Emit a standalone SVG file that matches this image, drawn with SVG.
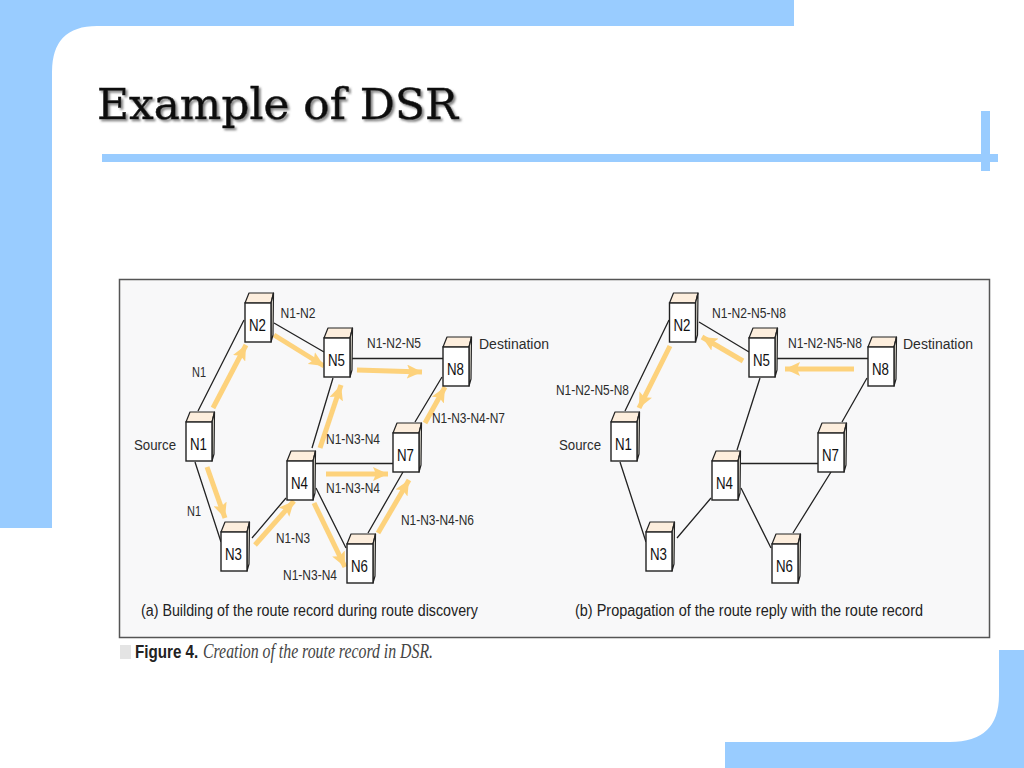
<svg xmlns="http://www.w3.org/2000/svg" width="1024" height="768" viewBox="0 0 1024 768">
<style>
.bg{fill:#99ccff}
.lnk{stroke:#222;stroke-width:1.3;fill:none}
.flow{stroke:#fdd27c;stroke-width:5;fill:none;marker-end:url(#head)}
.lab{font-family:"Liberation Sans",Arial,sans-serif;font-size:14px;fill:#2c2c2c}
.nl{font-family:"Liberation Sans",Arial,sans-serif;font-size:17px;fill:#111}
.cap{font-family:"Liberation Sans",Arial,sans-serif;font-size:16px;fill:#222}
</style>
<defs>
<marker id="head" markerUnits="userSpaceOnUse" markerWidth="16" markerHeight="14" refX="15" refY="7" orient="auto" viewBox="0 0 16 14"><path d="M0 0L15 7L0 14L3 7Z" fill="#fdd27c"/></marker>
<g id="box">
<path d="M0 0L4 -10L28.500 -10L26 0Z" fill="#fdeedd" stroke="#222" stroke-width="1.200" stroke-linejoin="round"/>
<path d="M26 0L28.500 -10L28 32L26 39Z" fill="#f4f0e4" stroke="#222" stroke-width="1.200" stroke-linejoin="round"/>
<rect x="0" y="0" width="26" height="39" fill="#fff" stroke="#222" stroke-width="1.400"/>
</g>
<filter id="sh" x="-5%" y="-10%" width="110%" height="130%"><feDropShadow dx="2" dy="2" stdDeviation="0.8" flood-color="#777" flood-opacity="0.9"/></filter>
</defs>
<rect width="1024" height="768" fill="#fff"/>
<g id="frame">
<path class="bg" d="M0 0H794V26H97Q52 26 52 72V528H0Z"/>
<path class="bg" d="M999 650H1024V768H725V742H950Q999 742 999 695Z"/>
<rect class="bg" x="102" y="154" width="896" height="8"/>
<rect class="bg" x="981" y="111" width="9" height="60"/>
</g>
<text id="title" x="97" y="119" font-family="'DejaVu Serif','Liberation Serif',serif" font-size="43" fill="#111" stroke="#111" stroke-width="0.500" textLength="361" lengthAdjust="spacingAndGlyphs" filter="url(#sh)">Example of DSR</text>
<rect id="panel" x="119.500" y="279.500" width="870" height="358" fill="#f8f8f9" stroke="#555" stroke-width="1.500"/>
<g id="connectors">
<path class="lnk" d="M198 411L244 320M274 323L324 352M350 358.500H443M333 378L312 448M314 463.500H393M415 422L442 377M403 472L368 533M316 488L346 548M252 538L286 498M195 462L221 542"/>
<path class="lnk" d="M625 411L669 320M699 322L749 352M775 358.500H868M760 378L737 450M739 463.500H818M842 422L867 378M831 472L793 533M741 488L771 548M677 538L711 498M620 462L646 542"/>
<path class="flow" d="M213 408L246 345"/>
<path class="flow" d="M274 335L324 366"/>
<path class="flow" d="M320 448L341 385"/>
<path class="flow" d="M357 370L422 372"/>
<path class="flow" d="M326 474H388"/>
<path class="flow" d="M425 423L445 387"/>
<path class="flow" d="M378 533L409 480"/>
<path class="flow" d="M314 503L345 567"/>
<path class="flow" d="M255 545L294 501"/>
<path class="flow" d="M207 467L225 518"/>
<path class="flow" d="M743 361L702 337"/>
<path class="flow" d="M670 346L639 408"/>
<path class="flow" d="M854 369H785"/>
</g>
<g id="a-n1" transform="translate(186 422)"><use href="#box"/><text class="nl" x="4" y="28" textLength="17" lengthAdjust="spacingAndGlyphs">N1</text></g>
<g id="a-n2" transform="translate(245 303)"><use href="#box"/><text class="nl" x="4" y="28" textLength="17" lengthAdjust="spacingAndGlyphs">N2</text></g>
<g id="a-n3" transform="translate(221 532)"><use href="#box"/><text class="nl" x="4" y="28" textLength="17" lengthAdjust="spacingAndGlyphs">N3</text></g>
<g id="a-n4" transform="translate(287 461)"><use href="#box"/><text class="nl" x="4" y="28" textLength="17" lengthAdjust="spacingAndGlyphs">N4</text></g>
<g id="a-n5" transform="translate(324 338)"><use href="#box"/><text class="nl" x="4" y="28" textLength="17" lengthAdjust="spacingAndGlyphs">N5</text></g>
<g id="a-n6" transform="translate(347 544)"><use href="#box"/><text class="nl" x="4" y="28" textLength="17" lengthAdjust="spacingAndGlyphs">N6</text></g>
<g id="a-n7" transform="translate(393 433)"><use href="#box"/><text class="nl" x="4" y="28" textLength="17" lengthAdjust="spacingAndGlyphs">N7</text></g>
<g id="a-n8" transform="translate(443 347)"><use href="#box"/><text class="nl" x="4" y="28" textLength="17" lengthAdjust="spacingAndGlyphs">N8</text></g>
<g id="b-n1" transform="translate(611 422)"><use href="#box"/><text class="nl" x="4" y="28" textLength="17" lengthAdjust="spacingAndGlyphs">N1</text></g>
<g id="b-n2" transform="translate(669.500 303)"><use href="#box"/><text class="nl" x="4" y="28" textLength="17" lengthAdjust="spacingAndGlyphs">N2</text></g>
<g id="b-n3" transform="translate(646 532)"><use href="#box"/><text class="nl" x="4" y="28" textLength="17" lengthAdjust="spacingAndGlyphs">N3</text></g>
<g id="b-n4" transform="translate(712 461)"><use href="#box"/><text class="nl" x="4" y="28" textLength="17" lengthAdjust="spacingAndGlyphs">N4</text></g>
<g id="b-n5" transform="translate(749 338)"><use href="#box"/><text class="nl" x="4" y="28" textLength="17" lengthAdjust="spacingAndGlyphs">N5</text></g>
<g id="b-n6" transform="translate(772 544)"><use href="#box"/><text class="nl" x="4" y="28" textLength="17" lengthAdjust="spacingAndGlyphs">N6</text></g>
<g id="b-n7" transform="translate(818 433)"><use href="#box"/><text class="nl" x="4" y="28" textLength="17" lengthAdjust="spacingAndGlyphs">N7</text></g>
<g id="b-n8" transform="translate(868 347)"><use href="#box"/><text class="nl" x="4" y="28" textLength="17" lengthAdjust="spacingAndGlyphs">N8</text></g>
<g id="labels">
<text class="lab" x="192" y="377" textLength="14" lengthAdjust="spacingAndGlyphs">N1</text>
<text class="lab" x="280.500" y="318" textLength="35" lengthAdjust="spacingAndGlyphs">N1-N2</text>
<text class="lab" x="134" y="449.500" textLength="42" lengthAdjust="spacingAndGlyphs">Source</text>
<text class="lab" x="367" y="348" textLength="54" lengthAdjust="spacingAndGlyphs">N1-N2-N5</text>
<text class="lab" x="479" y="349" textLength="70" lengthAdjust="spacingAndGlyphs">Destination</text>
<text class="lab" x="432" y="423" textLength="73" lengthAdjust="spacingAndGlyphs">N1-N3-N4-N7</text>
<text class="lab" x="326" y="444" textLength="54" lengthAdjust="spacingAndGlyphs">N1-N3-N4</text>
<text class="lab" x="326" y="493" textLength="54" lengthAdjust="spacingAndGlyphs">N1-N3-N4</text>
<text class="lab" x="401" y="525" textLength="73" lengthAdjust="spacingAndGlyphs">N1-N3-N4-N6</text>
<text class="lab" x="276" y="543" textLength="34" lengthAdjust="spacingAndGlyphs">N1-N3</text>
<text class="lab" x="283" y="580" textLength="54" lengthAdjust="spacingAndGlyphs">N1-N3-N4</text>
<text class="lab" x="187" y="516" textLength="14" lengthAdjust="spacingAndGlyphs">N1</text>
<text class="lab" x="712" y="318" textLength="74" lengthAdjust="spacingAndGlyphs">N1-N2-N5-N8</text>
<text class="lab" x="788" y="348" textLength="74" lengthAdjust="spacingAndGlyphs">N1-N2-N5-N8</text>
<text class="lab" x="556" y="395" textLength="73" lengthAdjust="spacingAndGlyphs">N1-N2-N5-N8</text>
<text class="lab" x="559" y="449.500" textLength="42" lengthAdjust="spacingAndGlyphs">Source</text>
<text class="lab" x="903" y="349" textLength="70" lengthAdjust="spacingAndGlyphs">Destination</text>
<text class="cap" x="141" y="616" textLength="337" lengthAdjust="spacingAndGlyphs">(a) Building of the route record during route discovery</text>
<text class="cap" x="575" y="616" textLength="348" lengthAdjust="spacingAndGlyphs">(b) Propagation of the route reply with the route record</text>
</g>
<g id="figure-caption">
<rect x="120" y="645" width="11" height="14" fill="#e4e4e4"/>
<text transform="translate(135 658) scale(0.800 1)" x="0" y="0" font-family="'Liberation Sans',Arial,sans-serif" font-weight="700" font-size="19" fill="#222">Figure 4.</text>
<text x="203" y="658" font-family="'Liberation Serif','Times New Roman',serif" font-style="italic" font-size="20" fill="#444" textLength="230" lengthAdjust="spacingAndGlyphs">Creation of the route record in DSR.</text>
</g>
</svg>
